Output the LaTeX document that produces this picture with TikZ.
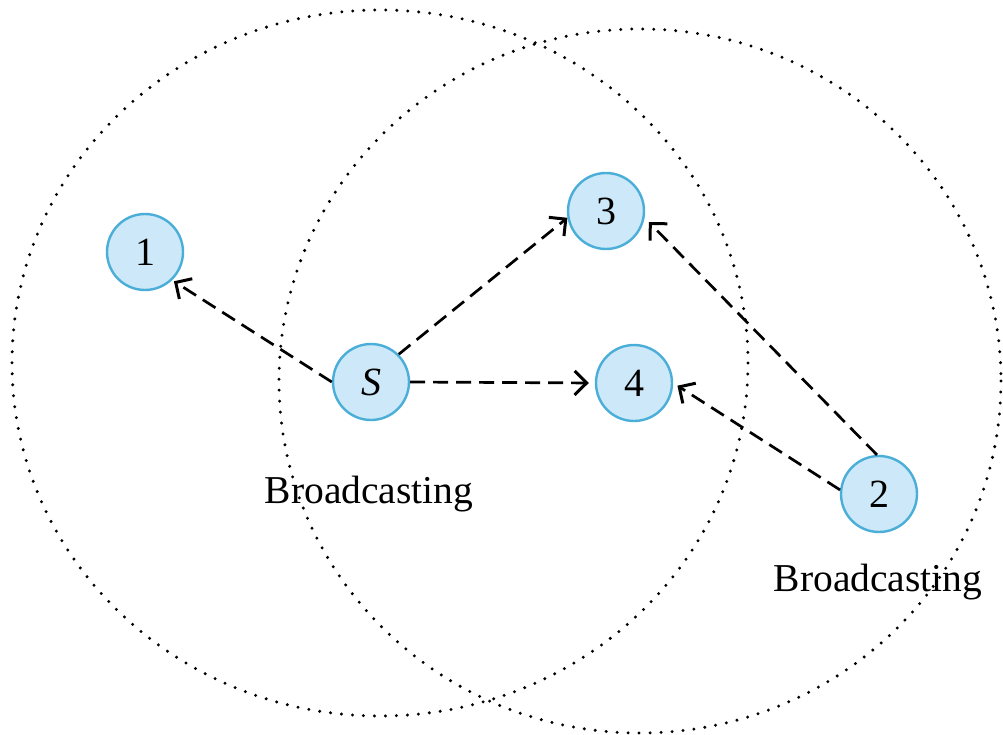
\documentclass[tikz,border=0pt]{standalone}
\usepackage{fontspec}
\setmainfont{Liberation Serif}
\usetikzlibrary{arrows.meta}
\definecolor{nodefill}{HTML}{CDE8F8}
\definecolor{nodeline}{HTML}{4AAED8}
\begin{document}
\begin{tikzpicture}[x=1pt,y=-1pt,
  station/.style={circle,draw=nodeline,fill=nodefill,line width=2.4pt,
    minimum size=76pt,inner sep=0pt,font=\fontsize{40}{48}\selectfont},
  coverage/.style={line width=3.3pt,line cap=round,dash pattern=on 0pt off 11pt},
  send/.style={line width=2.7pt,dash pattern=on 15pt off 8pt,
    -{Straight Barb[length=12pt,width=24pt,line width=3pt]}},
  caption/.style={anchor=base,font=\fontsize{39.5}{47}\selectfont}]
\useasboundingbox (0,0) rectangle (1003,735);

% broadcast ranges
\draw[coverage] (380,363) ellipse [x radius=368, y radius=353];
\draw[coverage] (640,381) ellipse [x radius=361, y radius=352];

% stations
\node[station] (S) at (371,382) {\textit{S}};
\node[station] (n1) at (145,252) {1};
\node[station] (n3) at (606,211) {3};
\node[station] (n4) at (634,383) {4};
\node[station] (n2) at (879,494) {2};

% captions
\node[caption] (c1) at (369,503) {Broadcasting};
\node[caption] (c2) at (878,591) {Broadcasting};

% transmissions
\draw[send,shorten >=2pt] (S.west) -- (n1.-46);
\draw[send] (S.45) -- (n3.190);
\draw[send,shorten >=6pt] (S.east) -- (n4.west);
\draw[send,shorten >=6pt] (n2.93) -- (n3.-10);
\draw[send,shorten >=5pt] (n2.174) -- (n4.east);
\end{tikzpicture}
\end{document}
